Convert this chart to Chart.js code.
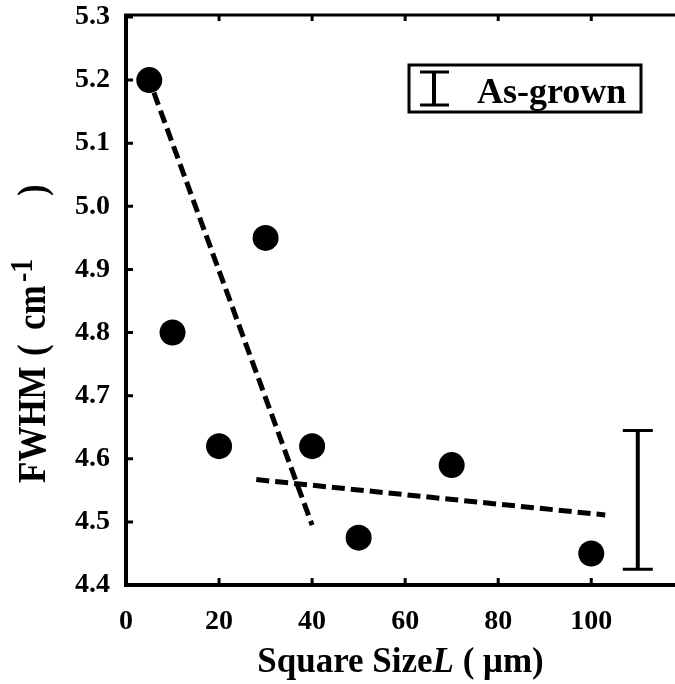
<!DOCTYPE html>
<html>
<head>
<meta charset="utf-8">
<script src="https://cdn.jsdelivr.net/npm/chart.js@4.4.0/dist/chart.umd.min.js"></script>
<style>
html,body{margin:0;padding:0;background:#fff;}
#wrap{width:675px;height:684px;position:relative;}
</style>
</head>
<body>
<div id="wrap"><canvas id="c" width="675" height="684"></canvas></div>
<script>
// ---- data ----
const squareSize = [5, 10, 20, 30, 40, 50, 70, 100];
const fwhm       = [5.20, 4.80, 4.62, 4.95, 4.62, 4.475, 4.59, 4.45];
const fit1X = [6, 40];
const fit1Y = [5.18, 4.495];
const fit2X = [28, 103];
const fit2Y = [4.567, 4.511];
const asGrownX = 110;
const asGrownLow = 4.425;
const asGrownHigh = 4.645;
const legendLabel = "As-grown";
const xTitle = ["Square Size", "L", " ( \u03bcm)"];
const yTitle = ["FWHM", "(", "cm", "-1", ")"];

const FONT = "'Liberation Serif', 'Times New Roman', serif";

function pts(xs, ys) { return xs.map((x, i) => ({x: x, y: ys[i]})); }

const framePlugin = {
  id: 'frame',
  afterDraw(chart) {
    const ctx = chart.ctx;
    const ca = chart.chartArea;
    const xs = chart.scales.x, ys = chart.scales.y;
    ctx.save();
    ctx.strokeStyle = '#000';
    ctx.lineCap = 'butt';
    // frame: left, bottom, top
    ctx.lineWidth = 4;
    ctx.beginPath();
    ctx.moveTo(ca.left, ca.top - 3); ctx.lineTo(ca.left, ca.bottom + 2);
    ctx.moveTo(ca.left - 2, ca.bottom); ctx.lineTo(ca.right, ca.bottom);
    ctx.stroke();
    ctx.lineWidth = 3;
    ctx.beginPath();
    ctx.moveTo(ca.left - 2, ca.top - 2); ctx.lineTo(ca.right, ca.top - 2);
    ctx.stroke();
    // inward ticks
    ctx.lineWidth = 3;
    ctx.beginPath();
    ys.ticks.forEach(t => {
      const py = ys.getPixelForValue(t.value);
      ctx.moveTo(ca.left, py); ctx.lineTo(ca.left + 7, py);
    });
    xs.ticks.forEach(t => {
      const px = xs.getPixelForValue(t.value);
      ctx.moveTo(px, ca.bottom); ctx.lineTo(px, ca.bottom - 7);
      ctx.moveTo(px, ca.top - 2); ctx.lineTo(px, ca.top + 4);
    });
    ctx.stroke();

    // as-grown error bar
    const ex = xs.getPixelForValue(asGrownX);
    const eTop = ys.getPixelForValue(asGrownHigh);
    const eBot = ys.getPixelForValue(asGrownLow);
    ctx.lineWidth = 4;
    ctx.beginPath();
    ctx.moveTo(ex, eTop); ctx.lineTo(ex, eBot);
    ctx.stroke();
    ctx.lineWidth = 3;
    ctx.beginPath();
    ctx.moveTo(ex - 15, eTop); ctx.lineTo(ex + 15, eTop);
    ctx.moveTo(ex - 15, eBot); ctx.lineTo(ex + 15, eBot);
    ctx.stroke();

    // legend box
    ctx.lineWidth = 3;
    ctx.strokeRect(409, 65, 232, 47);
    ctx.lineWidth = 4;
    ctx.beginPath();
    ctx.moveTo(434, 72); ctx.lineTo(434, 105);
    ctx.stroke();
    ctx.lineWidth = 3;
    ctx.beginPath();
    ctx.moveTo(420, 72); ctx.lineTo(449, 72);
    ctx.moveTo(420, 105); ctx.lineTo(449, 105);
    ctx.stroke();
    ctx.fillStyle = '#000';
    ctx.font = "bold 36px " + FONT;
    ctx.textAlign = 'left';
    ctx.textBaseline = 'alphabetic';
    ctx.fillText(legendLabel, 477, 103);

    // x title
    const fB = "bold 35px " + FONT, fI = "italic bold 35px " + FONT;
    ctx.font = fB; const w0 = ctx.measureText(xTitle[0]).width;
    ctx.font = fI; const w1 = ctx.measureText(xTitle[1]).width;
    ctx.font = fB; const w2 = ctx.measureText(xTitle[2]).width;
    let sx = (ca.left + ca.right) / 2 - (w0 + w1 + w2) / 2;
    ctx.font = fB; ctx.fillText(xTitle[0], sx, 672);
    ctx.font = fI; ctx.fillText(xTitle[1], sx + w0, 672);
    ctx.font = fB; ctx.fillText(xTitle[2], sx + w0 + w1, 672);

    // y title (rotated), pieces placed along the axis
    ctx.save();
    ctx.translate(45, 0);
    ctx.rotate(-Math.PI / 2);
    ctx.scale(1, 1.12);
    const fY = "bold 35px " + FONT, fS = "bold 28px " + FONT;
    ctx.font = fY; ctx.fillText(yTitle[0], -483, 0);
    ctx.font = fY; ctx.fillText(yTitle[1], -356, 0);
    ctx.font = fY; ctx.fillText(yTitle[2], -330, 0);
    ctx.font = fS; ctx.fillText(yTitle[3], -282, -12);
    ctx.font = fY; ctx.fillText(yTitle[4], -196, 0);
    ctx.restore();

    ctx.restore();
  }
};

new Chart(document.getElementById('c'), {
  type: 'scatter',
  data: {
    datasets: [
      {
        data: pts(squareSize, fwhm),
        pointRadius: 13,
        pointHoverRadius: 13,
        backgroundColor: '#000',
        borderColor: '#000',
        borderWidth: 0,
        showLine: false,
        order: 0
      },
      {
        data: pts(fit1X, fit1Y),
        showLine: true,
        borderColor: '#000',
        borderWidth: 5,
        borderDash: [13, 6],
        pointRadius: 0,
        fill: false,
        order: 1
      },
      {
        data: pts(fit2X, fit2Y),
        showLine: true,
        borderColor: '#000',
        borderWidth: 5,
        borderDash: [13, 6],
        pointRadius: 0,
        fill: false,
        order: 1
      }
    ]
  },
  options: {
    responsive: false,
    animation: false,
    devicePixelRatio: 1,
    layout: { autoPadding: false, padding: { top: 17, right: 0, bottom: 0, left: 0 } },
    plugins: { legend: { display: false }, tooltip: { enabled: false } },
    scales: {
      x: {
        type: 'linear',
        min: 0, max: 118,
        grid: { display: false, drawTicks: false, tickLength: 0 },
        border: { display: false },
        ticks: {
          stepSize: 20,
          includeBounds: false,
          color: '#000',
          padding: 20,
          maxRotation: 0,
          font: { family: FONT, size: 28, weight: 'bold' }
        },
        afterFit(s) { s.height = 99; s.paddingLeft = 0; s.paddingRight = 0; }
      },
      y: {
        type: 'linear',
        min: 4.4, max: 5.3,
        grid: { display: false, drawTicks: false, tickLength: 0 },
        border: { display: false },
        ticks: {
          stepSize: 0.1,
          includeBounds: false,
          color: '#000',
          padding: 16,
          font: { family: FONT, size: 28, weight: 'bold' },
          callback: v => Number(v).toFixed(1)
        },
        afterFit(s) { s.width = 126; s.paddingTop = 0; s.paddingBottom = 0; }
      }
    }
  },
  plugins: [framePlugin]
});
</script>
</body>
</html>
